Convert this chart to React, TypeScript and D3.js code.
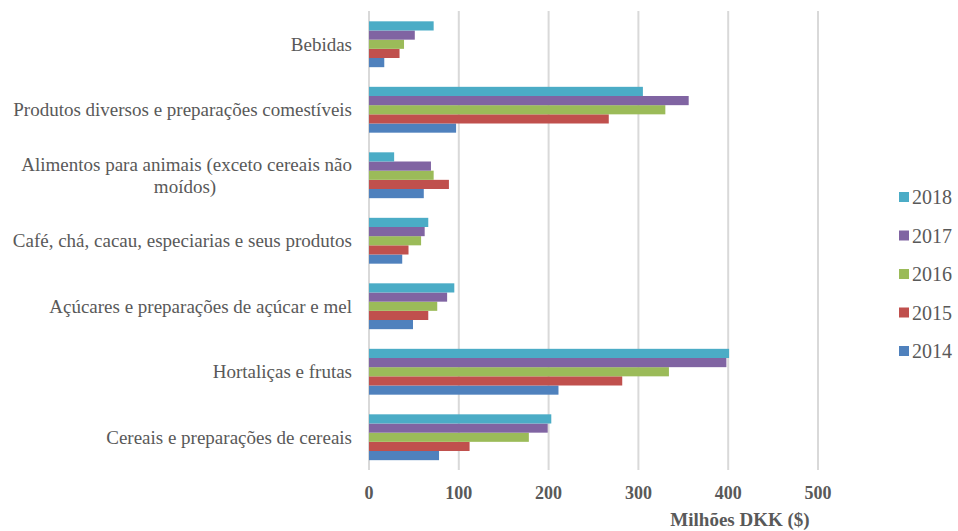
import React from "react";
import * as d3 from "d3";

const categories = [
  "Bebidas",
  "Produtos diversos e preparações comestíveis",
  "Alimentos para animais (exceto cereais não|moídos)",
  "Café, chá, cacau, especiarias e seus produtos",
  "Açúcares e preparações de açúcar e mel",
  "Hortaliças e frutas",
  "Cereais e preparações de cereais",
];

const years = ["2014", "2015", "2016", "2017", "2018"];

const v2014 = [17, 97, 61, 37, 49, 211, 78];
const v2015 = [34, 267, 89, 44, 66, 282, 112];
const v2016 = [39, 330, 72, 58, 76, 334, 178];
const v2017 = [51, 356, 69, 62, 87, 398, 199];
const v2018 = [72, 305, 28, 66, 95, 401, 203];

const seriesValues = [v2014, v2015, v2016, v2017, v2018];
const colors = ["#4F81BD", "#C0504D", "#9BBB59", "#8064A2", "#4BACC6"];

const xTicks = [0, 100, 200, 300, 400, 500];

const W = 958;
const H = 531;
const FONT = "Liberation Serif";
const LABEL_SIZE = 19;

export default function App() {
  const x = d3.scaleLinear().domain([0, 500]).range([369, 818]);
  const y = d3
    .scaleBand<string>()
    .domain(categories)
    .range([11.5, 470])
    .paddingInner(0.3)
    .paddingOuter(0.15);
  const inner = d3
    .scaleBand<string>()
    .domain([...years].reverse())
    .range([0, y.bandwidth()]);

  return (
    <svg
      width={W}
      height={H}
      style={{ position: "absolute", left: 0, top: 0, background: "#fff" }}
    >
      {xTicks.map((t) => (
        <line
          key={"g" + t}
          x1={x(t)}
          x2={x(t)}
          y1={11}
          y2={470}
          stroke="#d9d9d9"
          strokeWidth={2}
        />
      ))}
      {categories.map((c, ci) => (
        <g key={c} transform={`translate(0,${y(c)})`}>
          {years.map((yr, si) => (
            <rect
              key={yr}
              x={x(0)}
              y={inner(yr)}
              width={x(seriesValues[si][ci]) - x(0)}
              height={inner.bandwidth()}
              fill={colors[si]}
            />
          ))}
        </g>
      ))}
      {categories.map((c) => {
        const lines = c.split("|");
        const cy = (y(c) as number) + y.bandwidth() / 2;
        if (lines.length === 1) {
          return (
            <text
              key={"l" + c}
              x={352}
              y={cy}
              dy="0.35em"
              textAnchor="end"
              style={{ fontFamily: FONT, fontSize: LABEL_SIZE }}
              fill="#595959"
            >
              {c}
            </text>
          );
        }
        return (
          <g key={"l" + c}>
            <text
              x={352}
              y={cy - 11}
              dy="0.35em"
              textAnchor="end"
              style={{ fontFamily: FONT, fontSize: LABEL_SIZE }}
              fill="#595959"
            >
              {lines[0]}
            </text>
            <text
              x={185}
              y={cy + 11}
              dy="0.35em"
              textAnchor="middle"
              style={{ fontFamily: FONT, fontSize: LABEL_SIZE }}
              fill="#595959"
            >
              {lines[1]}
            </text>
          </g>
        );
      })}
      {xTicks.map((t) => (
        <text
          key={"t" + t}
          x={x(t)}
          y={493}
          dy="0.35em"
          textAnchor="middle"
          style={{ fontFamily: FONT, fontSize: 18, fontWeight: "bold" }}
          fill="#595959"
        >
          {t}
        </text>
      ))}
      <text
        x={740}
        y={519}
        dy="0.35em"
        textAnchor="middle"
        style={{ fontFamily: FONT, fontSize: 19, fontWeight: "bold" }}
        fill="#595959"
      >
        Milhões DKK ($)
      </text>
      {[...years].reverse().map((yr, i) => {
        const si = years.indexOf(yr);
        const ly = 197 + i * 38.5;
        return (
          <g key={"lg" + yr}>
            <rect x={899} y={ly - 5} width={10} height={10} fill={colors[si]} />
            <text
              x={912}
              y={ly}
              dy="0.35em"
              style={{ fontFamily: FONT, fontSize: 20 }}
              fill="#595959"
            >
              {yr}
            </text>
          </g>
        );
      })}
    </svg>
  );
}
